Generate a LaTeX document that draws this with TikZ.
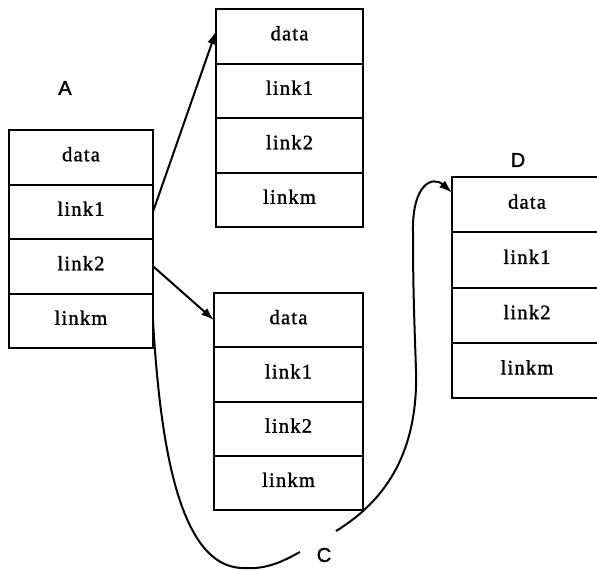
\documentclass[tikz,border=0pt]{standalone}
\usepackage{fontspec}
\usetikzlibrary{arrows.meta}
\newfontfamily\cellfont{Liberation Serif}[LetterSpace=6,FakeBold=1.3]
\newfontfamily\labfont{Liberation Sans}[FakeBold=1.5]
\tikzset{
  cell/.style={draw, line width=2pt, inner sep=0pt, outer sep=0pt,
    minimum height=54.5pt, text height=14pt, text depth=6pt,
    font=\cellfont\fontsize{20.5}{22}\selectfont},
  lab/.style={font=\labfont\fontsize{20}{22}\selectfont, inner sep=0pt},
  link/.style={line width=2pt, -{Latex[length=13pt,width=9pt]}},
  wire/.style={line width=2pt}
}
\begin{document}
\begin{tikzpicture}[x=1pt,y=-1pt]
\useasboundingbox (0,0) rectangle (597,570);

% record A
\node[cell, minimum width=144pt, anchor=north west] (A1) at (9,130) {data};
\node[cell, minimum width=144pt, anchor=north] (A2) at (A1.south) {link1};
\node[cell, minimum width=144pt, anchor=north] (A3) at (A2.south) {link2};
\node[cell, minimum width=144pt, anchor=north] (A4) at (A3.south) {linkm};
\node[lab] (la) at (65,88) {A};

% record B
\node[cell, minimum width=147pt, anchor=north west] (B1) at (216,9) {data};
\node[cell, minimum width=147pt, anchor=north] (B2) at (B1.south) {link1};
\node[cell, minimum width=147pt, anchor=north] (B3) at (B2.south) {link2};
\node[cell, minimum width=147pt, anchor=north] (B4) at (B3.south) {linkm};

% record C
\node[cell, minimum width=149pt, minimum height=54.25pt, anchor=north west] (C1) at (214,293) {data};
\node[cell, minimum width=149pt, minimum height=54.25pt, anchor=north] (C2) at (C1.south) {link1};
\node[cell, minimum width=149pt, minimum height=54.25pt, anchor=north] (C3) at (C2.south) {link2};
\node[cell, minimum width=149pt, minimum height=54.25pt, anchor=north] (C4) at (C3.south) {linkm};
\node[lab] (lc) at (324,555) {C};

% record D
\node[cell, minimum width=150pt, minimum height=55.25pt, anchor=north west] (D1) at (452,177) {data};
\node[cell, minimum width=150pt, minimum height=55.25pt, anchor=north] (D2) at (D1.south) {link1};
\node[cell, minimum width=150pt, minimum height=55.25pt, anchor=north] (D3) at (D2.south) {link2};
\node[cell, minimum width=150pt, minimum height=55.25pt, anchor=north] (D4) at (D3.south) {linkm};
\node[lab] (ld) at (518,160) {D};

% pointers
\draw[link] (A2.east) -- ([yshift=5pt]B1.west);
\draw[link] (A3.east) -- (C1.west);

% long pointer from linkm of A to D, broken around the label C
\coordinate (bot) at (242,568);
\coordinate (cl) at (300,552);
\coordinate (cr) at (336,531);
\coordinate (up) at (413,232);
\draw[wire] (A4.east) .. controls (160,440) and (178,566) .. (bot)
  .. controls (268,570) and (285,560) .. (cl);
\draw[link] (cr) .. controls (395,495) and (418,440) .. (416,370)
  to[out=92, in=-90] (up) .. controls (412,185) and (432,175) .. ([yshift=12pt]D1.west);
\end{tikzpicture}
\end{document}
